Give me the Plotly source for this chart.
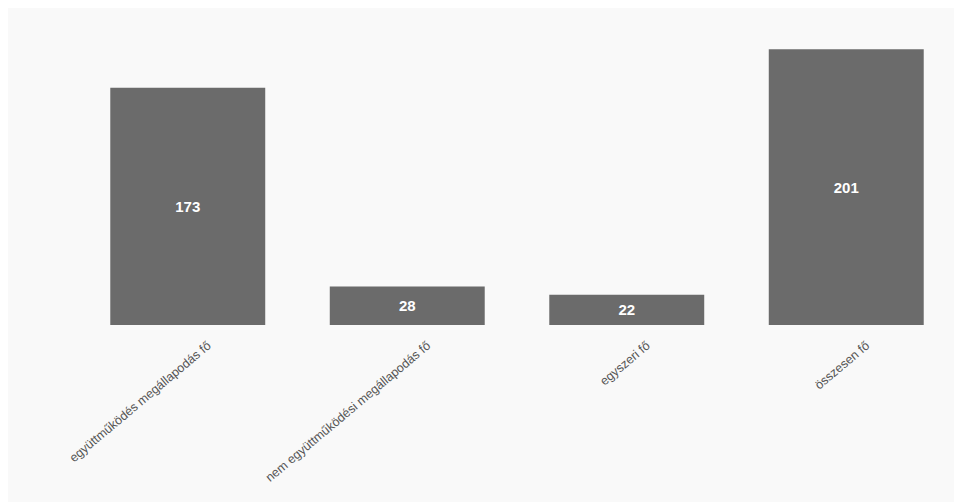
import plotly.graph_objects as go

categories = [
    "együttműködés megállapodás fő",
    "nem együttműködési megállapodás fő",
    "egyszeri fő",
    "összesen fő",
]
values = [173, 28, 22, 201]

fig = go.Figure(
    go.Bar(
        x=categories,
        y=values,
        text=[f"<b>{v}</b>" for v in values],
        textposition="inside",
        insidetextanchor="middle",
        textfont=dict(color="white", size=15, family="Liberation Sans"),
        marker=dict(color="#6b6b6b", line=dict(width=0)),
        width=0.706,
    )
)

fig.update_layout(
    width=962,
    height=502,
    margin=dict(l=70, r=14, t=22, b=185),
    paper_bgcolor="#f9f9f9",
    plot_bgcolor="#f9f9f9",
    showlegend=False,
    font=dict(family="Liberation Sans", color="#4a4a4a"),
)
fig.update_xaxes(
    tickangle=-40,
    tickfont=dict(size=12.5, color="#555555"),
    showline=False,
    ticks="",
    showgrid=False,
    ticklabelstandoff=10,
    ticklabelshift=20,
)
fig.update_yaxes(
    range=[0, 215],
    visible=False,
    showgrid=False,
)

fig.write_html("out.html")
